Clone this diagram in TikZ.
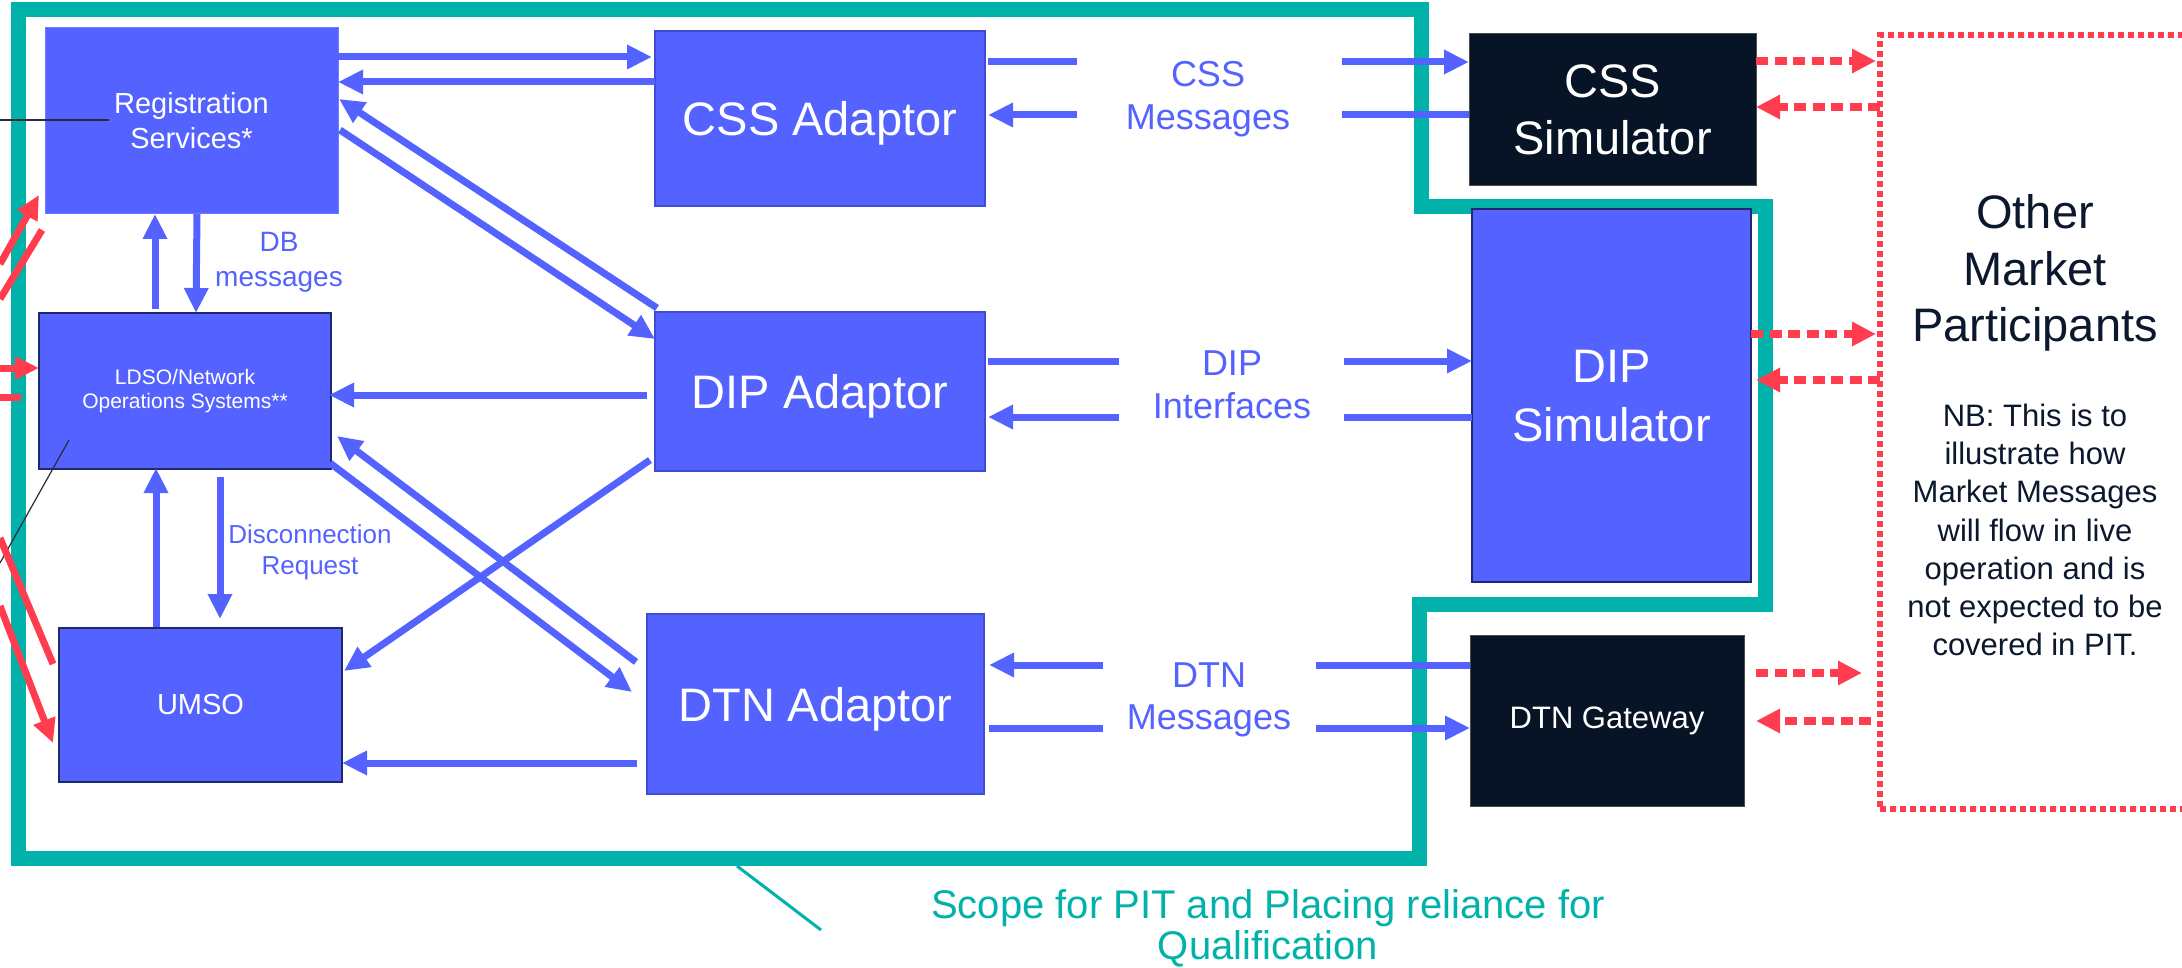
\documentclass[tikz,border=0pt]{standalone}
\usepackage{fontspec}
\setmainfont{Liberation Sans}
\usetikzlibrary{arrows.meta,calc}
\definecolor{boxblue}{RGB}{84,99,255}
\definecolor{lblblue}{RGB}{84,99,255}
\definecolor{navyfill}{RGB}{7,20,38}
\definecolor{navyline}{RGB}{30,40,110}
\definecolor{edgeblue}{RGB}{64,76,210}
\definecolor{scopeteal}{RGB}{0,178,169}
\definecolor{mred}{RGB}{255,61,79}
\definecolor{textdark}{RGB}{11,24,45}
\definecolor{calloutgray}{RGB}{40,44,56}
\tikzset{
  basebox/.style={inner sep=0pt, outer sep=0pt, align=center, text=white},
  adbox/.style={basebox, fill=boxblue, draw=edgeblue, line width=1.5pt, text depth=0pt, font=\fontsize{47}{56}\selectfont},
  sysbox/.style={basebox, fill=boxblue, draw=navyline, line width=2.5pt},
  simbox/.style={basebox, fill=navyfill, draw=gray!60!black, line width=1pt},
  flow/.style={draw=boxblue, line width=7pt, -{Triangle[length=25pt,width=23pt]}},
  flowline/.style={draw=boxblue, line width=7pt},
  mflow/.style={draw=mred, line width=7.5pt, dash pattern=on 12pt off 6.5pt, -{Triangle[length=24pt,width=23pt]}},
  redflow/.style={draw=mred, line width=7pt, -{Triangle[length=24pt,width=22pt]}},
  redline/.style={draw=mred, line width=7pt},
  lbl/.style={text=lblblue, align=center, inner sep=0pt},
}
\begin{document}
\begin{tikzpicture}[x=1pt,y=-1pt]
\useasboundingbox (0,0) rectangle (2182,968);
\clip (0,0) rectangle (2182,968);
\fill[white] (0,0) rectangle (2182,968);

% scope boundary
\draw[scopeteal, line width=15pt, line join=miter] (18,10) -- (1421,10) -- (1421,207) -- (1765,207) -- (1765,604) -- (1419,604) -- (1419,858) -- (18,858) -- cycle;
\coordinate (sc1) at (737,866);
\coordinate (sc2) at (821,930);
\draw[scopeteal, line width=3pt] (sc1) -- (sc2);
\node[text=scopeteal, align=center, inner sep=0pt, font=\fontsize{40}{41}\selectfont] (scopelbl) at (1268,928) {Scope for PIT and Placing reliance for\\Qualification};

% boxes
\node[sysbox, draw=boxblue!85!white, line width=1pt, minimum width=293pt, minimum height=186pt, font=\fontsize{29}{35}\selectfont] (reg) at (191.5,121) {Registration\\Services*};
\node[sysbox, minimum width=292pt, minimum height=156pt, font=\fontsize{21}{24.5}\selectfont] (ldso) at (185,391) {LDSO/Network\\Operations Systems**};
\node[sysbox, minimum width=283pt, minimum height=154pt, font=\fontsize{29}{35}\selectfont] (umso) at (200.5,705) {UMSO};
\node[adbox, minimum width=330pt, minimum height=175pt] (cssA) at (820,118.5) {CSS Adaptor};
\node[adbox, minimum width=330pt, minimum height=159pt] (dipA) at (820,391.5) {DIP Adaptor};
\node[adbox, minimum width=337pt, minimum height=180pt] (dtnA) at (815.5,704) {DTN Adaptor};
\node[simbox, text depth=0pt, minimum width=287pt, minimum height=152pt, font=\fontsize{47}{57}\selectfont] (cssS) at (1612.5,110) {CSS\\Simulator};
\node[sysbox, text depth=0pt, minimum width=279pt, minimum height=373pt, font=\fontsize{47}{59}\selectfont] (dipS) at (1611.5,395.5) {DIP\\Simulator};
\node[simbox, minimum width=274pt, minimum height=171pt, font=\fontsize{31}{37}\selectfont] (dtnG) at (1607,720.5) {DTN Gateway};
\node[draw=mred, line width=5.5pt, dash pattern=on 6pt off 4pt, inner sep=0pt, outer sep=0pt, minimum width=320pt, minimum height=774pt] (omp) at (2040,422) {};
\node[text=textdark, align=center, inner sep=0pt, font=\fontsize{47}{56.5}\selectfont] (ompT) at (2035,273) {Other\\Market\\Participants};
\node[text=textdark, align=center, inner sep=0pt, font=\fontsize{31}{38.3}\selectfont] (nb) at (2035,530) {NB: This is to\\illustrate how\\Market Messages\\will flow in live\\operation and is\\not expected to be\\covered in PIT.};

% labels
\node[lbl, font=\fontsize{36}{43}\selectfont] (lcss) at (1208,99) {CSS\\Messages};
\node[lbl, font=\fontsize{36}{43}\selectfont] (ldip) at (1232,385) {DIP\\Interfaces};
\node[lbl, font=\fontsize{36}{42}\selectfont] (ldtn) at (1209,700) {DTN\\Messages};
\node[lbl, font=\fontsize{28}{35}\selectfont] (ldb) at (279,262) {DB\\messages};
\node[lbl, font=\fontsize{26}{31}\selectfont] (ldisc) at (310,552) {Disconnection\\Request};

% callout lines
\coordinate (k1) at (0,120);
\coordinate (k2) at (109,120);
\coordinate (k3) at (69,440);
\coordinate (k4) at (0,563);
\draw[calloutgray, line width=1.5pt] (k1) -- (k2);
\draw[calloutgray, line width=1.2pt] (k3) -- (k4);

% blue flows: registration / adaptors / systems
\draw[flow] ($(reg.north east)+(0,29)$) -- ($(cssA.north west)+(-3,26)$);
\draw[flow] ($(cssA.north west)+(0,51)$) -- ($(reg.north east)+(0,54)$);
\draw[flow] ($(dipA.north west)+(2,-4)$) -- ($(reg.north east)+(1,71)$);
\draw[flow] ($(reg.north east)+(2,102)$) -- ($(dipA.north west)+(0,27)$);
\draw[flow] ($(ldso.north west)+(116,-4)$) -- ($(reg.south west)+(110,0)$);
\draw[flow] ($(reg.south west)+(152,0)$) -- ($(ldso.north west)+(157,0)$);
\draw[flow] ($(dipA.north west)+(-8,83)$) -- ($(ldso.north east)+(-2,82)$);
\draw[flow] ($(ldso.south east)+(-1,-6)$) -- ($(dtnA.north west)+(-15,78)$);
\draw[flow] ($(dtnA.north west)+(-11,48)$) -- ($(ldso.south east)+(6,-33)$);
\draw[flow] ($(dipA.south west)+(-5,-11)$) -- ($(umso.north east)+(2,43)$);
\draw[flow] ($(umso.north west)+(97,-1)$) -- ($(ldso.south west)+(117,-1)$);
\draw[flow] ($(ldso.south west)+(181,8)$) -- ($(umso.north west)+(161,-9)$);
\draw[flow] ($(dtnA.south west)+(-10,-31)$) -- ($(umso.south east)+(0,-19)$);

% blue flows with gaps round the labels
\coordinate (c1a) at (1077,62);  \coordinate (c1b) at (1342,62);
\coordinate (c2a) at (1077,115); \coordinate (c2b) at (1342,115);
\coordinate (d1a) at (1119,361); \coordinate (d1b) at (1344,361);
\coordinate (d2a) at (1119,417); \coordinate (d2b) at (1344,417);
\coordinate (t1a) at (1103,665); \coordinate (t1b) at (1316,665);
\coordinate (t2a) at (1103,728); \coordinate (t2b) at (1316,728);
\draw[flowline] ($(cssA.north east)+(3,31)$) -- (c1a);
\draw[flow] (c1b) -- ($(cssS.north west)+(0,28)$);
\draw[flowline] ($(cssS.north west)+(0,81)$) -- (c2b);
\draw[flow] (c2a) -- ($(cssA.north east)+(3,84)$);
\draw[flowline] ($(dipA.north east)+(3,49)$) -- (d1a);
\draw[flow] (d1b) -- ($(dipS.north west)+(0,152)$);
\draw[flowline] ($(dipS.north west)+(0,208)$) -- (d2b);
\draw[flow] (d2a) -- ($(dipA.north east)+(3,105)$);
\draw[flowline] ($(dtnG.north west)+(0,30)$) -- (t1b);
\draw[flow] (t1a) -- ($(dtnA.north east)+(5,51)$);
\draw[flowline] ($(dtnA.north east)+(5,114)$) -- (t2a);
\draw[flow] (t2b) -- ($(dtnG.north west)+(0,93)$);

% red dotted flows to other market participants
\draw[mflow] ($(cssS.north east)+(0,27)$) -- ($(omp.north west)+(-4,26)$);
\draw[mflow] ($(omp.north west)+(0,72)$) -- ($(cssS.north east)+(0,73)$);
\draw[mflow] ($(dipS.north east)+(0,125)$) -- ($(omp.north west)+(-4,299)$);
\draw[mflow] ($(omp.north west)+(0,345)$) -- ($(dipS.north east)+(5,171)$);
\draw[mflow] ($(dtnG.north east)+(12,38)$) -- ($(omp.north west)+(-18,638)$);
\draw[mflow] ($(omp.north west)+(-9,686)$) -- ($(dtnG.north east)+(12,86)$);

% red flows at the left edge
\coordinate (r1) at (0,264);
\coordinate (r2) at (0,299);
\coordinate (r3) at (0,368);
\coordinate (r4) at (0,397);
\coordinate (r4e) at (21,397);
\coordinate (r5) at (0,538);
\coordinate (r6) at (0,606);
\draw[redflow] (r1) -- ($(reg.south west)+(-6,-19)$);
\draw[redline] (r2) -- ($(reg.south west)+(-3,16)$);
\draw[redflow] (r3) -- ($(ldso.west)+(0,-23)$);
\draw[redline] (r4) -- (r4e);
\draw[redline] (r5) -- ($(umso.north west)+(-6,36)$);
\draw[redflow] (r6) -- ($(umso.north west)+(-6,115)$);
\end{tikzpicture}
\end{document}
